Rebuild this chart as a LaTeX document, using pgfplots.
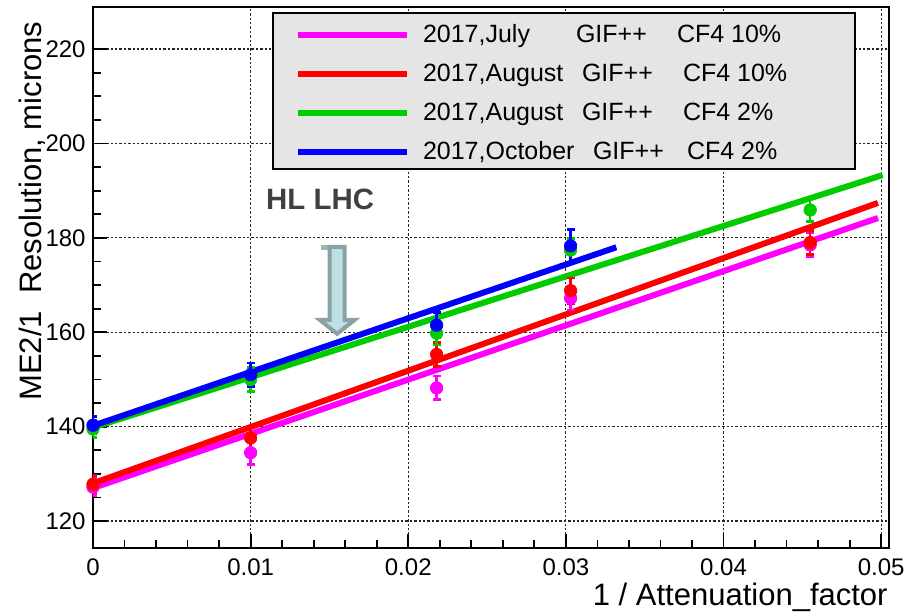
\documentclass[border=0pt]{standalone}
\usepackage{fontspec}
\setmainfont{Liberation Sans}
\usepackage{pgfplots}
\usepackage{pgfplotstable}
\pgfplotsset{compat=1.18}
\definecolor{rmag}{RGB}{255,0,255}
\definecolor{rred}{RGB}{255,0,0}
\definecolor{rgreen}{RGB}{0,204,0}
\definecolor{rblue}{RGB}{0,0,255}
\definecolor{arrfill}{RGB}{190,224,228}
\definecolor{arrdraw}{RGB}{138,162,164}
\definecolor{hltext}{RGB}{64,64,64}
\definecolor{legfill}{RGB}{229,229,229}

\pgfplotstableread{
x y e
0 127.2 1.8
0.01 134.5 2.5
0.0218 148.2 2.5
0.0303 167.2 2.5
0.0455 178.5 2.5
}\julydata
\pgfplotstableread{
x y e
0 127.8 1.8
0.01 137.6 2.5
0.0218 155.3 2.5
0.0303 168.8 2.7
0.0455 179.0 2.5
}\augtendata
\pgfplotstableread{
x y e
0 139.5 1.8
0.01 150.0 2.5
0.0218 159.8 2.5
0.0303 177.4 2.5
0.0455 185.9 2.5
}\augtwodata
\pgfplotstableread{
x y e
0 140.3 1.8
0.01 151.0 2.5
0.0218 161.5 2.7
0.0303 178.3 3.5
}\octdata

\begin{document}
\begin{tikzpicture}
\begin{axis}[
  name=ax,
  scale only axis,
  width=398pt, height=270.5pt,
  xmin=0, xmax=0.0505,
  ymin=114.3, ymax=228.9,
  xtick={0,0.01,0.02,0.03,0.04,0.05},
  xticklabels={0,0.01,0.02,0.03,0.04,0.05},
  scaled x ticks=false,
  ytick={120,140,160,180,200,220},
  minor x tick num=4,
  minor y tick num=3,
  tick pos=left,
  tick align=inside,
  major tick length=7pt,
  minor tick length=4pt,
  every tick/.style={black, line width=0.9pt},
  axis line style={black, line width=1pt},
  grid=major,
  major grid style={black!85, line width=0.6pt, dash pattern=on 1.2pt off 1pt},
  /pgf/number format/assume math mode=true,
  tick label style={font=\fontsize{12}{14}\selectfont},
  yticklabel style={inner sep=0pt, xshift=-3.5pt},
  xticklabel style={inner sep=0pt, yshift=-5pt},
  xlabel={1 / Attenuation\_factor},
  ylabel={ME2/1\ \ Resolution, microns},
  label style={font=\fontsize{15.5}{18}\selectfont},
  xlabel style={at={(axis description cs:0.9987,-0.1054)}, anchor=base east, inner sep=0pt},
  ylabel style={at={(axis description cs:-0.0641,0.974)}, anchor=base east, inner sep=0pt, rotate=0},
  legend style={
    at={(axis description cs:0.2249,0.99076)}, anchor=north west,
    fill=legfill, draw=black, line width=1pt,
    inner sep=0pt, row sep=0pt, column sep=0pt,
    font=\fontsize{12.5}{15}\selectfont,
    nodes={inner sep=0pt, text height=15pt, text depth=4.5pt},
  },
  legend cell align=left,
  legend image code/.code={\path (-11pt,-1.5pt) (61pt,-1.5pt); \draw[#1, line width=3pt] (0pt,-1.5pt) -- (54.5pt,-1.5pt);},
]
% fit lines
\addplot[rmag, line width=3pt] coordinates {(0,127.0) (0.0498,184.2)};
\addlegendentry{\makebox[216pt][l]{\makebox[76.5pt][l]{2017,July}\makebox[50.5pt][l]{GIF++}CF4 10\%}}
\addplot[rred, line width=3pt] coordinates {(0,128.0) (0.0498,187.4)};
\addlegendentry{\makebox[216pt][l]{\makebox[79.5pt][l]{2017,August}\makebox[50.5pt][l]{GIF++}CF4 10\%}}
\addplot[rgreen, line width=3pt] coordinates {(0,139.8) (0.0501,193.3)};
\addlegendentry{\makebox[216pt][l]{\makebox[79.5pt][l]{2017,August}\makebox[50.5pt][l]{GIF++}CF4 2\%}}
\addplot[rblue, line width=3pt] coordinates {(0,140.2) (0.0332,178.0)};
\addlegendentry{\makebox[216pt][l]{\makebox[85pt][l]{2017,October}\makebox[47pt][l]{GIF++}CF4 2\%}}
% data points
\pgfplotsset{pts/.style={only marks, mark=*, mark size=3.1pt, forget plot,
   error bars/.cd, y dir=both, y explicit,
   error bar style={line width=1.3pt},
   error mark options={rotate=90, mark size=2pt, line width=1.3pt}}}
\addplot[rmag, mark options={fill=rmag}, pts] table[x=x, y=y, y error=e] {\julydata};
\addplot[rred, mark options={fill=rred}, pts] table[x=x, y=y, y error=e] {\augtendata};
\addplot[rgreen, mark options={fill=rgreen}, pts] table[x=x, y=y, y error=e] {\augtwodata};
\addplot[rblue, mark options={fill=rblue}, pts] table[x=x, y=y, y error=e] {\octdata};
% annotation
\node[font=\fontsize{14.7}{17}\selectfont\bfseries, text=hltext, anchor=base, inner sep=0pt] at (axis cs:0.01441,186.1) {HL LHC};
\fill[arrdraw!80] ([shift={(-8.25pt,0.9pt)}]axis cs:0.01549,178.1) rectangle ([shift={(-4.5pt,-1.6pt)}]axis cs:0.01549,178.1);
\draw[arrdraw, fill=arrfill, line width=2pt, line join=miter]
  ([shift={(-3.75pt,0pt)}]axis cs:0.01549,178.1) --
  ([shift={(-3.75pt,-36.5pt)}]axis cs:0.01549,178.1) --
  ([shift={(-8.75pt,-36.5pt)}]axis cs:0.01549,178.1) --
  ([shift={(0pt,-43.5pt)}]axis cs:0.01549,178.1) --
  ([shift={(8.75pt,-36.5pt)}]axis cs:0.01549,178.1) --
  ([shift={(3.75pt,-36.5pt)}]axis cs:0.01549,178.1) --
  ([shift={(3.75pt,0pt)}]axis cs:0.01549,178.1) -- cycle;
\end{axis}
\pgfresetboundingbox
\path ([shift={(-46.5pt,-31.5pt)}]ax.south west) rectangle ([shift={(12.5pt,3.5pt)}]ax.north east);
\end{tikzpicture}
\end{document}
